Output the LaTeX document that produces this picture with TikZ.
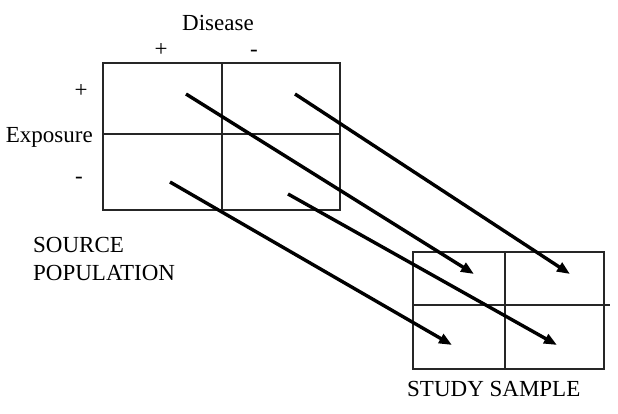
\documentclass[tikz,border=0pt]{standalone}
\usepackage{fontspec}
\setmainfont{Liberation Serif}
\usetikzlibrary{arrows.meta}
\begin{document}
\begin{tikzpicture}[x=1pt,y=-1pt,
    grid/.style={line width=1.2pt, black!85},
    link/.style={line width=3.4pt, -{Triangle[length=13pt,width=10pt]}},
    lbl/.style={font=\fontsize{23}{26}\selectfont, inner sep=0pt, anchor=base}]
        \useasboundingbox (0,0) rectangle (618,414);
        % source population table
        \draw[grid] (103,63) rectangle (340,210);
        \draw[grid] (222,63) -- (222,210);
        \draw[grid] (103,134) -- (340,134);
        % study sample table
        \draw[grid] (413,252) rectangle (604,369);
        \draw[grid] (505,252) -- (505,369);
        \draw[grid] (413,305) -- (610,305);

        % labels
        \node[lbl] (disease) at (218,31) {Disease};
        \node[lbl] (dplus) at (161,57) {+};
        \node[lbl] (dminus) at (254,57) {-};
        \node[lbl] (eplus) at (81,98) {+};
        \node[lbl, anchor=base east] (exposure) at (93,143) {Exposure};
        \node[lbl] (eminus) at (79,183) {-};
        \node[lbl, anchor=base west] (source) at (33,252) {SOURCE};
        \node[lbl, anchor=base west] (population) at (33,280) {POPULATION};
        \node[lbl, anchor=base west] (study) at (407,396) {STUDY SAMPLE};

        % sampling arrows
        \coordinate (a) at (186,94);
        \coordinate (b) at (295,94);
        \coordinate (c) at (170,182);
        \coordinate (d) at (288,194);
        \coordinate (pa) at (474,274);
        \coordinate (pb) at (570,274);
        \coordinate (pc) at (452,345);
        \coordinate (pd) at (557,345);
        \draw[link] (a) -- (pa);
        \draw[link] (b) -- (pb);
        \draw[link] (c) -- (pc);
        \draw[link] (d) -- (pd);
    \end{tikzpicture}
\end{document}
